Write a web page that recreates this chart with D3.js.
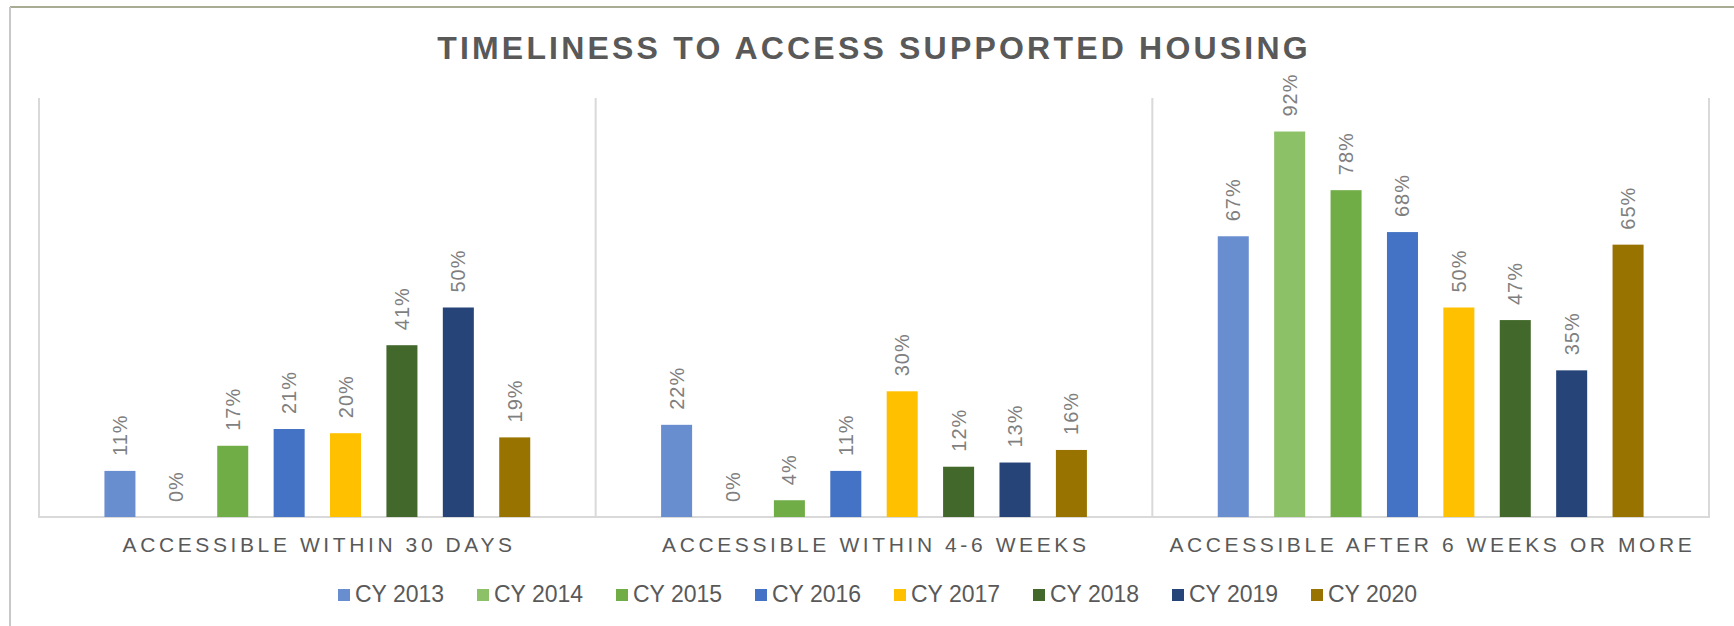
<!DOCTYPE html>
<html>
  <head>
    <meta charset="utf-8">
    <title>Timeliness to access supported housing</title>
    <script src="https://d3js.org/d3.v7.min.js"></script>
    <style>
      body { margin: 0; background: #fff; }
      svg { font-family: Arial, "Liberation Sans", sans-serif; display: block; }
      .frame { stroke-width: 2; fill: none; }
      .plotLine { stroke: #d9d9d9; stroke-width: 2; }
      .label { fill: #7f7f7f; font-size: 20px; letter-spacing: 1px; }
      .catLabel { fill: #595959; font-size: 21px; letter-spacing: 3.6px; }
      .legendText { fill: #595959; font-size: 23px; }
      #title { fill: #595959; font-size: 32px; font-weight: bold; letter-spacing: 3.2px; }
    </style>
  </head>
  <body>
    <svg id="chart" width="1734" height="626">
      <line class="frame" x1="10" y1="7" x2="1734" y2="7" stroke="#a8ac92"></line>
      <line class="frame" x1="10" y1="7" x2="10" y2="626" stroke="#c8c8c8"></line>
      <text id="title" x="874" y="59" text-anchor="middle">TIMELINESS TO ACCESS SUPPORTED HOUSING</text>
      <g id="gridGroup"></g>
      <g id="barGroup"></g>
      <g id="labelGroup"></g>
      <g id="catGroup"></g>
      <g id="legendGroup"></g>
    </svg>
    <script>
      // data
      categories = ["ACCESSIBLE WITHIN 30 DAYS", "ACCESSIBLE WITHIN 4-6 WEEKS", "ACCESSIBLE AFTER 6 WEEKS OR MORE"];
      series = ["CY 2013", "CY 2014", "CY 2015", "CY 2016", "CY 2017", "CY 2018", "CY 2019", "CY 2020"];
      colours = ["#698ed0", "#8cc168", "#70ad47", "#4472c4", "#ffc000", "#43682b", "#264478", "#997300"];
      cy2013 = [0.11, 0.22, 0.67];
      cy2014 = [0.00, 0.00, 0.92];
      cy2015 = [0.17, 0.04, 0.78];
      cy2016 = [0.21, 0.11, 0.68];
      cy2017 = [0.20, 0.30, 0.50];
      cy2018 = [0.41, 0.12, 0.47];
      cy2019 = [0.50, 0.13, 0.35];
      cy2020 = [0.19, 0.16, 0.65];
      values = [cy2013, cy2014, cy2015, cy2016, cy2017, cy2018, cy2019, cy2020];

      // build table
      tableData = [];
      categories.forEach(function(c, ci) {
        series.forEach(function(s, si) {
          tableData.push({ category: c, series: s, value: values[si][ci] });
        });
      });

      // scales
      margin = { top: 98, right: 25, bottom: 109, left: 39 };
      width = 1734;
      height = 626;
      x0 = d3.scaleBand()
        .domain(categories)
        .range([margin.left, width - margin.right])
        .padding(0);
      x1 = d3.scaleBand()
        .domain(series)
        .range([0, x0.bandwidth()])
        .paddingInner(0.45)
        .paddingOuter(1.16);
      y = d3.scaleLinear()
        .domain([0, 1])
        .range([height - margin.bottom, margin.top]);
      colour = d3.scaleOrdinal(series, colours);
      pct = d3.format(".0%");

      // plot area lines
      grid = d3.select("#gridGroup");
      dividers = categories.map(function(c) { return x0(c); }).concat([x0.range()[1]]);
      grid.selectAll("line.divider")
        .data(dividers)
        .join("line")
          .attr("class", "plotLine divider")
          .attr("x1", function(d) { return d; })
          .attr("x2", function(d) { return d; })
          .attr("y1", y(1))
          .attr("y2", y(0));
      grid.append("line")
        .attr("class", "plotLine")
        .attr("x1", x0.range()[0] - 1)
        .attr("x2", x0.range()[1] + 1)
        .attr("y1", y(0))
        .attr("y2", y(0));

      // bars
      d3.select("#barGroup").selectAll("rect")
        .data(tableData.filter(function(d) { return d.value > 0; }))
        .join("rect")
          .attr("x", function(d) { return x0(d.category) + x1(d.series); })
          .attr("width", x1.bandwidth())
          .attr("y", function(d) { return y(d.value); })
          .attr("height", function(d) { return y(0) - y(d.value); })
          .attr("fill", function(d) { return colour(d.series); });

      // value labels
      d3.select("#labelGroup").selectAll("text")
        .data(tableData)
        .join("text")
          .attr("class", "label")
          .attr("transform", function(d) {
            cx = x0(d.category) + x1(d.series) + x1.bandwidth() / 2;
            return "translate(" + cx + "," + (y(d.value) - 15) + ") rotate(-90)";
          })
          .attr("dy", "0.35em")
          .text(function(d) { return pct(d.value); });

      // category labels
      d3.select("#catGroup").selectAll("text")
        .data(categories)
        .join("text")
          .attr("class", "catLabel")
          .attr("x", function(d) { return x0(d) + x0.bandwidth() / 2 + 1.8; })
          .attr("y", 552)
          .attr("text-anchor", "middle")
          .text(function(d) { return d; });

      // legend
      legendX = d3.scaleLinear().domain([0, 1]).range([338, 477]);
      legend = d3.select("#legendGroup").selectAll("g")
        .data(series)
        .join("g")
          .attr("transform", function(d, i) { return "translate(" + legendX(i) + ",589)"; });
      legend.append("rect")
        .attr("width", 12)
        .attr("height", 12)
        .attr("fill", function(d) { return colour(d); });
      legend.append("text")
        .attr("class", "legendText")
        .attr("x", 17)
        .attr("y", 13)
        .text(function(d) { return d; });
    </script>
  </body>
</html>
